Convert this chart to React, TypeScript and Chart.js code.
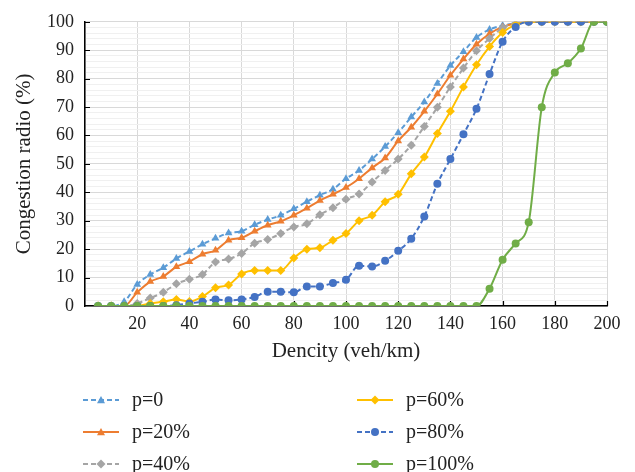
import React, { useEffect, useRef } from "react";
import { Chart, registerables } from "chart.js";

Chart.register(...registerables);

const densities = [5, 10, 15, 20, 25, 30, 35, 40, 45, 50, 55, 60, 65, 70, 75, 80, 85, 90, 95, 100, 105, 110, 115, 120, 125, 130, 135, 140, 145, 150, 155, 160, 165, 170, 175, 180, 185, 190, 195, 200];

const p0 = [0, 0, 1.5, 7.6, 11.1, 13.5, 16.7, 19.2, 21.7, 23.8, 25.7, 26.3, 28.6, 30.4, 31.9, 34.2, 36.7, 39.0, 41.1, 44.8, 47.7, 51.7, 56.1, 61.0, 66.5, 71.8, 78.3, 84.6, 89.5, 94.5, 97.3, 98.7, 99.5, 100, 100, 100, 100, 100, 100, 100];
const p20 = [0, 0, 0, 4.8, 8.6, 10.4, 13.8, 15.6, 18.2, 19.6, 23.1, 24.0, 26.3, 28.4, 29.8, 31.9, 34.4, 37.1, 39.3, 41.7, 44.8, 48.6, 52.1, 58.1, 62.9, 68.5, 74.6, 81.2, 86.9, 92.1, 95.8, 98.2, 99.5, 100, 100, 100, 100, 100, 100, 100];
const p40 = [0, 0, 0, 0.9, 2.8, 4.8, 7.8, 9.4, 11.1, 15.5, 16.5, 18.5, 22.1, 23.4, 25.5, 27.8, 28.9, 32.1, 34.6, 37.6, 39.4, 43.6, 47.7, 51.7, 56.6, 63.2, 69.9, 77.1, 83.7, 89.8, 94.1, 97.9, 99.5, 100, 100, 100, 100, 100, 100, 100];
const p60 = [0, 0, 0, 0, 0.9, 1.5, 2.3, 1.6, 3.3, 6.4, 7.4, 11.3, 12.5, 12.5, 12.5, 16.9, 20.0, 20.5, 23.1, 25.5, 30.0, 31.9, 36.7, 39.3, 46.5, 52.4, 60.7, 68.5, 77.1, 84.9, 91.3, 96.2, 99.0, 100, 100, 100, 100, 100, 100, 100];
const p80 = [0, 0, 0, 0, 0, 0, 0.3, 0.9, 1.5, 2.3, 2.0, 2.3, 3.2, 5.0, 5.0, 4.8, 6.9, 6.9, 8.1, 9.2, 14.2, 13.9, 15.9, 19.4, 23.7, 31.5, 43.0, 51.7, 60.4, 69.4, 81.6, 93.0, 98.2, 100, 100, 100, 100, 100, 100, 100];
const p100 = [0, 0, 0, 0, 0, 0, 0, 0, 0, 0, 0, 0, 0, 0, 0, 0, 0, 0, 0, 0, 0, 0, 0, 0, 0, 0, 0, 0, 0, 0, 6.1, 16.3, 22.0, 29.5, 69.9, 82.2, 85.4, 90.6, 100, 100];

const seriesLabels = ["p=0", "p=20%", "p=40%", "p=60%", "p=80%", "p=100%"];
const seriesValues = [p0, p20, p40, p60, p80, p100];
const seriesColors = ["#5B9BD5", "#ED7D31", "#A5A5A5", "#FFC000", "#4472C4", "#70AD47"];
const seriesMarkers = ["triangle", "triangle", "rectRot", "rectRot", "circle", "circle"];
const seriesDashed = [true, false, true, false, true, false];

const xTitle = "Dencity (veh/km)";
const yTitle = "Congestion radio (%)";

const FONT = "'Liberation Serif', 'Times New Roman', serif";

export default function App() {
  const canvasRef = useRef<HTMLCanvasElement | null>(null);

  useEffect(() => {
    document.body.style.margin = "0";
    const canvas = canvasRef.current;
    if (!canvas) return;

    const datasets = seriesLabels.map((label, i) => ({
      label,
      order: seriesLabels.length - i,
      data: densities.map((x, j) => ({ x, y: seriesValues[i][j] })),
      borderColor: seriesColors[i],
      backgroundColor: seriesColors[i],
      borderWidth: 2,
      borderDash: seriesDashed[i] ? [5, 3] : [],
      pointStyle: seriesMarkers[i],
      pointRadius: seriesMarkers[i] === "circle" ? 4 : 4.5,
      pointBorderWidth: 0,
      cubicInterpolationMode: "monotone" as const,
      tension: 0.3,
    }));

    const innerTicks = {
      id: "innerTicks",
      beforeDatasetsDraw(chart: any) {
        const { ctx, chartArea, scales } = chart;
        ctx.save();
        ctx.strokeStyle = "#000";
        ctx.lineWidth = 1.2;
        ctx.beginPath();
        for (let v = 10; v <= 100; v += 10) {
          const y = Math.round(scales.y.getPixelForValue(v)) + 0.5;
          ctx.moveTo(chartArea.left, y);
          ctx.lineTo(chartArea.left + 5, y);
        }
        for (let v = 20; v <= 200; v += 20) {
          const x = Math.round(scales.x.getPixelForValue(v)) + 0.5;
          ctx.moveTo(x, chartArea.bottom);
          ctx.lineTo(x, chartArea.bottom - 5);
        }
        ctx.stroke();
        ctx.restore();
      },
    };

    const customLegend = {
      id: "customLegend",
      afterDraw(chart: any) {
        const { ctx } = chart;
        const cols = [83, 357];
        const rows = [400, 432, 464];
        ctx.save();
        chart.data.datasets.forEach((ds: any, i: number) => {
          const col = Math.floor(i / 3);
          const row = i % 3;
          const x0 = cols[col];
          const y = rows[row];
          ctx.strokeStyle = ds.borderColor;
          ctx.lineWidth = 2;
          ctx.setLineDash(ds.borderDash || []);
          ctx.beginPath();
          ctx.moveTo(x0, y);
          ctx.lineTo(x0 + 36, y);
          ctx.stroke();
          ctx.setLineDash([]);
          ctx.fillStyle = ds.borderColor;
          const cx = x0 + 18;
          const r = 4;
          ctx.beginPath();
          if (ds.pointStyle === "triangle") {
            ctx.moveTo(cx, y - r);
            ctx.lineTo(cx + r, y + r * 0.8);
            ctx.lineTo(cx - r, y + r * 0.8);
            ctx.closePath();
          } else if (ds.pointStyle === "rectRot") {
            ctx.moveTo(cx, y - r - 0.5);
            ctx.lineTo(cx + r + 0.5, y);
            ctx.lineTo(cx, y + r + 0.5);
            ctx.lineTo(cx - r - 0.5, y);
            ctx.closePath();
          } else {
            ctx.arc(cx, y, r, 0, Math.PI * 2);
          }
          ctx.fill();
          ctx.fillStyle = "#222";
          ctx.font = `20px ${FONT}`;
          ctx.textBaseline = "middle";
          ctx.textAlign = "left";
          ctx.fillText(ds.label, x0 + 49, y + 1);
        });
        ctx.restore();
      },
    };

    const chart = new Chart(canvas, {
      type: "line",
      data: { datasets },
      plugins: [innerTicks, customLegend],
      options: {
        responsive: false,
        animation: false,
        layout: { padding: { left: 0, right: 28, top: 17, bottom: 106 } },
        plugins: {
          legend: { display: false },
          tooltip: { enabled: false },
        },
        scales: {
          x: {
            type: "linear",
            min: 0,
            max: 200,
            afterFit(scale: any) {
              scale.height = 60;
            },
            ticks: {
              stepSize: 20,
              padding: 7,
              color: "#222",
              font: { family: FONT, size: 18 },
              callback: (v: any) => (v === 0 ? "" : String(v)),
            },
            grid: { color: "#d9d9d9", lineWidth: 1, drawTicks: false },
            border: { color: "#000", width: 1.5 },
            title: {
              display: true,
              text: xTitle,
              color: "#222",
              font: { family: FONT, size: 21 },
              padding: { top: 0, bottom: 2 },
            },
          },
          y: {
            type: "linear",
            min: 0,
            max: 100,
            afterFit(scale: any) {
              scale.width = 85;
            },
            ticks: {
              stepSize: 2,
              autoSkip: false,
              padding: 11,
              color: "#222",
              font: { family: FONT, size: 18 },
              callback: (v: any) => (Number(v) % 10 === 0 ? String(v) : ""),
            },
            grid: {
              drawTicks: false,
              lineWidth: 1,
              color: (c: any) =>
                c.tick && c.tick.value % 10 === 0 ? "#d9d9d9" : "#f0f0f0",
            },
            border: { color: "#000", width: 1.5 },
            title: {
              display: true,
              text: yTitle,
              color: "#222",
              font: { family: FONT, size: 21 },
              padding: { top: 12, bottom: 0 },
            },
          },
        },
      },
    } as any);

    return () => chart.destroy();
  }, []);

  return (
    <div style={{ width: 635, height: 472 }}>
      <canvas ref={canvasRef} width={635} height={472} style={{ display: "block" }} />
    </div>
  );
}
